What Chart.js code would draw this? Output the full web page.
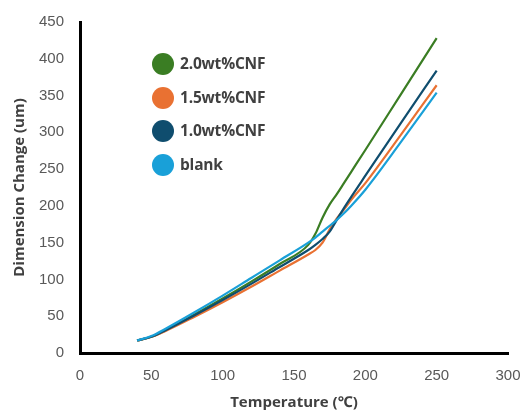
<!DOCTYPE html>
<html>
<head>
<meta charset="utf-8">
<script src="https://cdn.jsdelivr.net/npm/chart.js@4.4.1/dist/chart.umd.min.js"></script>
<style>
  body { margin: 0; background: #fff; }
  #wrap { position: relative; width: 523px; height: 412px; }
  #legend { position: absolute; left: 152px; top: 53px; font-family: "Open Sans", "Noto Sans", sans-serif; font-weight: bold; font-size: 15.5px; color: #404040; }
  #legend .item { position: relative; height: 33.5px; }
  #legend .dot { position: absolute; left: 0; top: 0; width: 22px; height: 22px; border-radius: 50%; }
  #legend .txt { position: absolute; left: 28px; top: -1px; white-space: nowrap; letter-spacing: -0.2px; }
</style>
</head>
<body>
<div id="wrap">
  <canvas id="chart" width="523" height="412"></canvas>
  <div id="legend"></div>
</div>
<script>
// temperature (°C)
var temps = [40, 50, 60, 80, 100, 120, 140, 160, 165, 170, 175, 180, 185, 190, 200, 225, 250];

// dimension change (um)
var cnf20 = [17, 22, 31, 52, 74, 97, 121, 147, 162, 184, 202, 216, 231, 246, 276, 352, 428];
var cnf15 = [17, 22, 30, 49, 69, 90, 112, 134, 140, 150, 168, 183, 195, 208, 231, 297, 364];
var cnf10 = [17, 22, 31, 51, 72, 94, 117, 140, 147, 155, 165, 181, 197, 212, 241, 313, 384];
var blank = [17, 23, 33, 55, 78, 102, 126, 150, 157, 165, 173, 181, 190, 200, 222, 287, 354];

var seriesNames = ['2.0wt%CNF', '1.5wt%CNF', '1.0wt%CNF', 'blank'];
var seriesColors = ['#3a7d23', '#e97132', '#0f4d6e', '#19a0d8'];
var seriesValues = [cnf20, cnf15, cnf10, blank];
var drawOrder = [3, 2, 1, 0];

function toPoints(vals) {
    var pts = [];
    for (var i = 0; i < temps.length; i++) {
        pts.push({ x: temps[i], y: vals[i] });
    }
    return pts;
}

var datasets = [];
for (var s = 0; s < seriesNames.length; s++) {
    datasets.push({
        label: seriesNames[s],
        data: toPoints(seriesValues[s]),
        borderColor: seriesColors[s],
        backgroundColor: seriesColors[s],
        borderWidth: 2.2,
        pointRadius: 0,
        cubicInterpolationMode: 'monotone',
        order: drawOrder[s]
    });
}

var tickFont = { family: '"Liberation Sans", Arial, sans-serif', size: 15 };
var titleFont = { family: '"Open Sans", "Noto Sans", sans-serif', size: 15, weight: 'bold' };

var ctx = document.getElementById('chart').getContext('2d');
var chart = new Chart(ctx, {
    type: 'line',
    data: { datasets: datasets },
    options: {
        responsive: false,
        animation: false,
        layout: { padding: { top: 22, right: 15, left: 0, bottom: 0 } },
        plugins: {
            legend: { display: false },
            tooltip: { enabled: false }
        },
        scales: {
            x: {
                type: 'linear',
                min: 0,
                max: 300,
                ticks: { stepSize: 50, color: '#595959', font: tickFont, padding: 14, maxRotation: 0 },
                grid: { display: false, drawTicks: false },
                border: { display: true, color: '#000', width: 3 },
                title: { display: true, text: 'Temperature (℃)', color: '#404040', font: titleFont, padding: { top: 0, bottom: 0 } },
                afterFit: function(scale) {
                    scale.height = 59;
                    scale.paddingLeft = 0;
                    scale.paddingRight = 0;
                }
            },
            y: {
                min: 0,
                max: 450,
                ticks: { stepSize: 50, color: '#595959', font: tickFont, padding: 16 },
                grid: { display: false, drawTicks: false },
                border: { display: true, color: '#000', width: 3 },
                title: { display: true, text: 'Dimension Change (um)', color: '#404040', font: titleFont, padding: { top: 11, bottom: 0 } },
                afterFit: function(scale) {
                    scale.width = 80;
                    scale.paddingTop = 0;
                    scale.paddingBottom = 0;
                }
            }
        }
    }
});

// legend inside plot
var legendBox = document.getElementById('legend');
chart.data.datasets.forEach(function(ds) {
    legendBox.innerHTML +=
        "<div class='item'><span class='dot' style='background-color: " + ds.borderColor + "'></span>" +
        "<span class='txt'>" + ds.label + "</span></div>";
});
</script>
</body>
</html>
